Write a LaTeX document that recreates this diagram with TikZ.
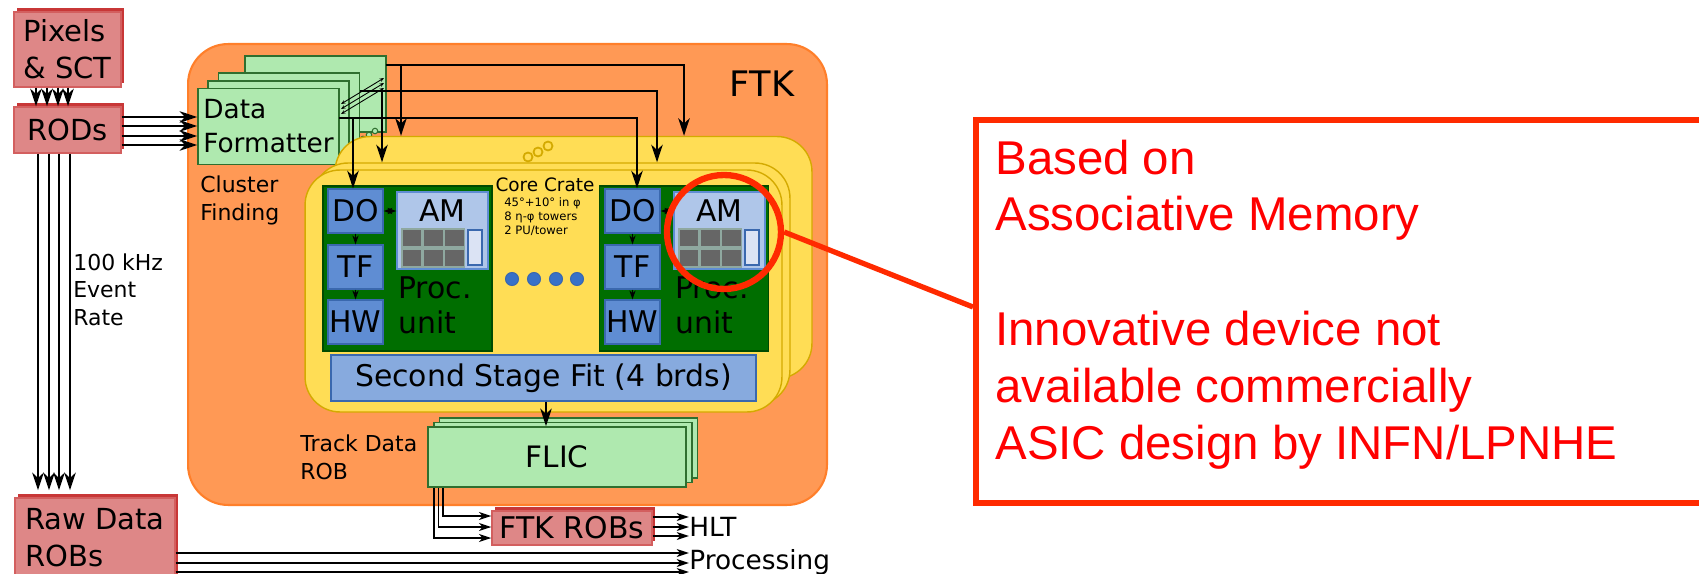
\documentclass[tikz,border=0pt]{standalone}
\usepackage{fontspec}
\setmainfont{DejaVu Sans}
\newfontfamily\notefont{Liberation Sans}
\usetikzlibrary{arrows.meta,shadows}

\definecolor{ftkorange}{HTML}{FF9955}
\definecolor{ftkedge}{HTML}{FF7F2A}
\definecolor{crateyellow}{HTML}{FFDD55}
\definecolor{crateedge}{HTML}{D4AA00}
\definecolor{robfill}{HTML}{DE8787}
\definecolor{robedge}{HTML}{D35F5F}
\definecolor{robshade}{HTML}{C83737}
\definecolor{dffill}{HTML}{AFE9AF}
\definecolor{dfedge}{HTML}{2F6F2F}
\definecolor{pugreen}{HTML}{006E00}
\definecolor{puedge}{HTML}{004A00}
\definecolor{boardblue}{HTML}{5F8DD3}
\definecolor{boardedge}{HTML}{3A68AE}
\definecolor{amblue}{HTML}{AFC6E9}
\definecolor{fitblue}{HTML}{87AADE}
\definecolor{panelfill}{HTML}{DBE3F4}
\definecolor{chipgray}{HTML}{666666}
\definecolor{chipedge}{HTML}{8FA8A0}
\definecolor{dotblue}{HTML}{3771C8}
\definecolor{hilite}{HTML}{FF2A00}
\definecolor{notered}{HTML}{FF0000}

\newcommand{\setsz}[2]{\fontsize{#1}{#2}\selectfont}

\begin{document}
\begin{tikzpicture}[x=0.02cm, y=-0.02cm,
    flow/.style={line width=1.3pt, -{Stealth[length=10pt, width=6.5pt, inset=3pt]}},
    thinflow/.style={line width=1pt, -{Stealth[length=7pt, width=4.5pt, inset=2pt]}},
    boardflow/.style={line width=1pt, -{Stealth[length=5pt, width=3.5pt, inset=1.5pt]}},
    boardlink/.style={line width=1pt, {Stealth[length=5pt, width=3.5pt, inset=1.5pt]}-{Stealth[length=5pt, width=3.5pt, inset=1.5pt]}},
    dflink/.style={line width=0.5pt, {Stealth[length=2.5pt, width=2pt]}-{Stealth[length=2.5pt, width=2pt]}},
    robbox/.style={rectangle, fill=robfill, draw=robedge, line width=0.8pt, inner sep=0pt,
      general shadow={fill=robshade, shadow xshift=1.7pt, shadow yshift=2.2pt}},
    greenbox/.style={rectangle, fill=dffill, draw=dfedge, line width=0.9pt, inner sep=0pt},
    crate/.style={rectangle, rounded corners=0.7cm, fill=crateyellow, draw=crateedge,
      line width=0.8pt, minimum width=9.54cm, minimum height=4.84cm},
    board/.style={rectangle, fill=boardblue, draw=boardedge, line width=0.7pt, inner sep=0pt,
      minimum width=1.1cm, minimum height=0.88cm, font=\setsz{17}{20}},
    label/.style={inner sep=0pt, align=left, font=\setsz{12.5}{15.5}}]

  \useasboundingbox (0,0) rectangle (1699,574);
  \clip (0,0) rectangle (1699,574);

  % front-end readout
  \node[robbox, minimum width=2.14cm, minimum height=1.5cm, align=left,
        font=\setsz{16.5}{21}] (pix) at (67.5,49.5) {Pixels\\\& SCT};
  \node[robbox, minimum width=2.14cm, minimum height=0.92cm,
        font=\setsz{16.5}{21}] (rods) at (67.5,130) {RODs};
  \node[robbox, minimum width=3.2cm, minimum height=1.6cm, align=left,
        font=\setsz{16.5}{21}] (raw) at (95,538) {Raw Data\\ROBs};

  % FTK system
  \node[rectangle, rounded corners=0.8cm, fill=ftkorange, draw=ftkedge, line width=1.2pt,
        minimum width=12.78cm, minimum height=9.22cm] (ftk) at (507.5,274.5) {};
  \node[inner sep=0pt, font=\setsz{20}{24}] (ftklbl) at (762,84) {FTK};

  \begin{scope}[every node/.style={greenbox, minimum width=2.82cm, minimum height=1.52cm}]
    \node (df4) at (315.5,94) {};
    \node (df3) at (289,111) {};
    \node (df2) at (278.5,119) {};
    \node[align=left, font=\setsz{15}{19.3}] (df1) at (268.5,126.5) {Data\\Formatter};
  \end{scope}
  \draw[dflink] (341,114) -- (384,88);
  \draw[dflink] (341,109) -- (384,83);
  \draw[dflink] (341,104) -- (384,78);
  \begin{scope}[every node/.style={circle, draw=dfedge, fill=dffill, line width=0.6pt,
                                   minimum size=0.11cm, inner sep=0pt}]
    \node (dfo1) at (363,139) {};
    \node (dfo2) at (369,135) {};
    \node (dfo3) at (375,131) {};
  \end{scope}

  % core crates
  \node[crate] (crate3) at (573.5,257.5) {};
  \node[crate] (crate2) at (551.5,284) {};
  \node[crate] (crate1) at (543.5,291) {};
  \begin{scope}[every node/.style={circle, draw=crateedge, fill=crateyellow, line width=1pt,
                                   minimum size=0.18cm, inner sep=0pt}]
    \node (cro1) at (528,157) {};
    \node (cro2) at (538,152) {};
    \node (cro3) at (548,146) {};
  \end{scope}

  % processing units
  \begin{scope}[every node/.style={rectangle, fill=pugreen, draw=puedge, line width=0.6pt,
                                   minimum width=3.38cm, minimum height=3.3cm}]
    \node (pu1) at (407.5,268.5) {};
    \node (pu2) at (684,268.5) {};
  \end{scope}
  \node[board] (do1) at (355.5,211) {DO};
  \node[board] (tf1) at (355.5,267) {TF};
  \node[board] (hw1) at (355.5,322) {HW};
  \node[board] (do2) at (632.5,211) {DO};
  \node[board] (tf2) at (632.5,267) {TF};
  \node[board] (hw2) at (632.5,322) {HW};
  \begin{scope}[every node/.style={rectangle, fill=amblue, draw=boardblue, line width=0.8pt,
                                   minimum width=1.82cm, minimum height=1.54cm}]
    \node (am1) at (442.5,230.5) {};
    \node (am2) at (719.5,230.5) {};
  \end{scope}
  \node[inner sep=0pt, font=\setsz{17}{20}] (amtxt1) at (442.5,211) {AM};
  \node[inner sep=0pt, font=\setsz{17}{20}] (amtxt2) at (719.5,211) {AM};

  \begin{scope}[every node/.style={rectangle, fill=chipgray, draw=chipedge, line width=0.6pt,
                                   minimum width=0.4cm, minimum height=0.36cm, inner sep=0pt}]
    \node (chip1a) at (412,238) {};   \node (chip1b) at (433.5,238) {}; \node (chip1c) at (454.5,238) {};
    \node (chip1d) at (412,258) {};   \node (chip1e) at (433.5,258) {}; \node (chip1f) at (454.5,258) {};
    \node (chip2a) at (689,238) {};   \node (chip2b) at (710.5,238) {}; \node (chip2c) at (731.5,238) {};
    \node (chip2d) at (689,258) {};   \node (chip2e) at (710.5,258) {}; \node (chip2f) at (731.5,258) {};
  \end{scope}
  \begin{scope}[every node/.style={rectangle, fill=panelfill, draw=boardedge, line width=0.8pt,
                                   minimum width=0.28cm, minimum height=0.7cm, inner sep=0pt}]
    \node (pnl1) at (475,247.5) {};
    \node (pnl2) at (752,247.5) {};
  \end{scope}
  % multi-line nodes sit on the baseline of their last line
  \node[inner sep=0pt, anchor=base west, align=left, font=\setsz{17}{19.8}] (unit1) at (398,333) {Proc.\\unit};
  \node[inner sep=0pt, anchor=base west, align=left, font=\setsz{17}{19.8}] (unit2) at (675,333) {Proc.\\unit};

  \draw[boardflow] (do1) -- (tf1);
  \draw[boardflow] (tf1) -- (hw1);
  \draw[boardflow] (do2) -- (tf2);
  \draw[boardflow] (tf2) -- (hw2);
  \draw[boardlink] (do1.east) -- (do1.east -| am1.west);
  \draw[boardlink] (do2.east) -- (do2.east -| am2.west);

  \node[inner sep=0pt, anchor=base, font=\setsz{10.5}{12}] (cctitle) at (545,192) {Core Crate};
  \node[inner sep=0pt, anchor=base west, align=left, font=\setsz{6.6}{8.2}] (ccnote) at (504,235)
    {45°+10° in φ\\8 η-φ towers\\2 PU/tower};
  \begin{scope}[every node/.style={circle, fill=dotblue, draw=boardedge, line width=0.6pt,
                                   minimum size=0.26cm, inner sep=0pt}]
    \node (dot1) at (512,279) {};
    \node (dot2) at (534,279) {};
    \node (dot3) at (556,279) {};
    \node (dot4) at (577,279) {};
  \end{scope}

  \node[rectangle, fill=fitblue, draw=boardedge, line width=0.7pt, inner sep=0pt,
        minimum width=8.5cm, minimum height=0.92cm, font=\setsz{17}{20}] (ssf) at (543.5,378)
    {Second Stage Fit (4 brds)};

  % output side
  \begin{scope}[every node/.style={greenbox, minimum width=5.16cm, minimum height=1.2cm}]
    \node (flic3) at (568.5,448) {};
    \node (flic2) at (563,452.5) {};
    \node[font=\setsz{16.8}{20}] (flic1) at (557,457) {FLIC};
  \end{scope}
  \node[robbox, minimum width=3.2cm, minimum height=0.68cm, font=\setsz{17}{20}] (robs)
    at (572,528) {FTK ROBs};
  \node[inner sep=0pt, anchor=west, font=\setsz{15}{18}] (hlt) at (689,527) {HLT};
  \node[inner sep=0pt, anchor=west, font=\setsz{15}{18}] (procout) at (689,562) {Processing};

  \node[label, anchor=base west] (clus) at (200,220) {Cluster\\Finding};
  \node[label, anchor=base west] (rate) at (73,325) {100 kHz\\Event\\Rate};
  \node[label, anchor=base west] (trob) at (300,479) {Track Data\\ROB};

  % data flow
  \draw[flow] (36,0 |- pix.south) -- (36,0 |- rods.north);
  \draw[flow] (47,0 |- pix.south) -- (47,0 |- rods.north);
  \draw[flow] (58,0 |- pix.south) -- (58,0 |- rods.north);
  \draw[flow] (68,0 |- pix.south) -- (68,0 |- rods.north);

  \draw[flow] (rods.east |- 0,117) -- (df1.west |- 0,117);
  \draw[flow] (rods.east |- 0,126) -- (df1.west |- 0,126);
  \draw[flow] (rods.east |- 0,136) -- (df1.west |- 0,136);
  \draw[flow] (rods.east |- 0,145) -- (df1.west |- 0,145);

  \draw[flow, shorten >=4pt] (38,0 |- rods.south) -- (38,0 |- raw.north);
  \draw[flow, shorten >=4pt] (49,0 |- rods.south) -- (49,0 |- raw.north);
  \draw[flow, shorten >=4pt] (59,0 |- rods.south) -- (59,0 |- raw.north);
  \draw[flow, shorten >=4pt] (70,0 |- rods.south) -- (70,0 |- raw.north);

  \coordinate (tap4) at (386,65);
  \coordinate (tap3) at (360,91);
  \coordinate (tap1) at (339,118);
  \draw[flow] (tap4) -| (684,0 |- crate3.north);
  \draw[flow] (401,0 |- tap4) -- (401,0 |- crate3.north);
  \draw[flow] (tap3) -| (657,0 |- crate2.north);
  \draw[flow] (382,0 |- tap3) -- (382,0 |- crate2.north);
  \draw[flow] (tap1) -| (637,0 |- do2.north);
  \draw[flow] (353,0 |- tap1) -- (353,0 |- do1.north);

  \draw[flow] (546,0 |- ssf.south) -- (546,0 |- flic1.north);

  \draw[thinflow] (443,0 |- flic1.south) |- (robs.west |- 0,516);
  \draw[thinflow] (438.5,0 |- flic1.south) |- (robs.west |- 0,527);
  \draw[thinflow] (434,0 |- flic1.south) |- (robs.west |- 0,538);

  \draw[thinflow] (robs.east |- 0,517) -- (hlt.west |- 0,517);
  \draw[thinflow] (robs.east |- 0,527) -- (hlt.west |- 0,527);
  \draw[thinflow] (robs.east |- 0,536) -- (hlt.west |- 0,536);

  \draw[thinflow] (raw.east |- 0,553) -- (procout.west |- 0,553);
  \draw[thinflow] (raw.east |- 0,563) -- (procout.west |- 0,563);
  \draw[thinflow] (raw.east |- 0,572) -- (procout.west |- 0,572);

  % AM highlight and note
  \node[circle, draw=hilite, line width=3.6pt, minimum size=2.28cm] (amring) at (724,232) {};
  \node[rectangle, draw=hilite, line width=3.4pt, anchor=north west,
        minimum width=15.74cm, minimum height=7.66cm] (note) at (973,117) {};
  \draw[hilite, line width=3pt] (amring.east) -- (note.west |- 0,307);
  \node[inner sep=0pt, anchor=base west, align=left, text=notered,
        font=\notefont\setsz{27}{32.3}] (notetxt) at (995,459)
    {Based on\\Associative Memory\\[33pt]Innovative device not\\available commercially\\ASIC design by INFN/LPNHE};

\end{tikzpicture}
\end{document}
